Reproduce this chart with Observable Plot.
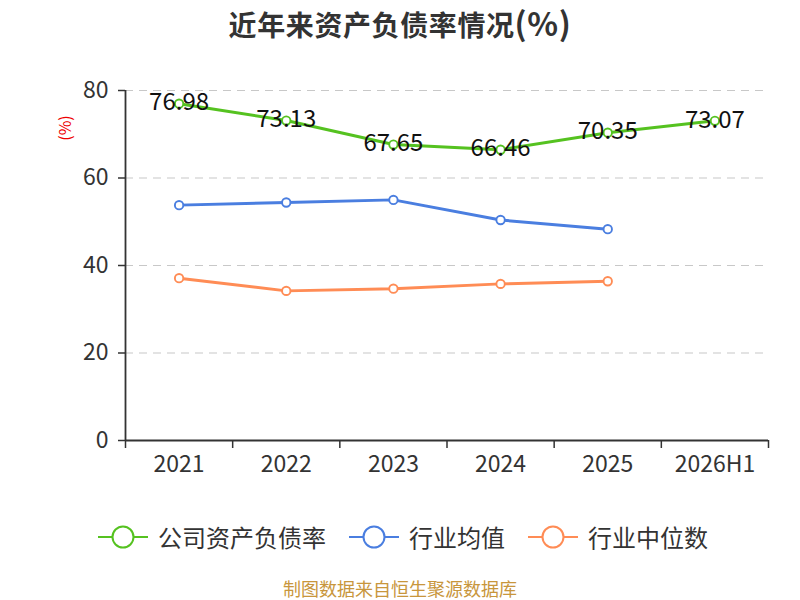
<!DOCTYPE html>
<html><head><meta charset="utf-8">
<script src="https://cdn.jsdelivr.net/npm/d3@7"></script>
<script src="https://cdn.jsdelivr.net/npm/@observablehq/plot@0.6"></script>
<style>
body{margin:0;width:800px;height:600px;position:relative;font-family:"Noto Sans CJK SC","Noto Sans",sans-serif;background:#fff;overflow:hidden}
#title{position:absolute;top:0px;left:0;width:800px;text-align:center;font-size:28px;font-weight:bold;color:#333;letter-spacing:0.6px;line-height:44px}
#title .p{font-size:32px}
#chart{position:absolute;top:0;left:0}
.leg{position:absolute;top:521px;height:32px;display:flex;align-items:center;font-size:24px;color:#333;line-height:32px}
.leg svg{margin-right:9px}
#caption{position:absolute;top:579px;left:0;width:800px;text-align:center;font-size:18px;color:#c8963c;line-height:19px}
#ylab{position:absolute;left:51px;top:116px;color:#e00;font-size:16px;transform:rotate(-90deg);transform-origin:center}
</style></head>
<body>
<div id="chart"></div>
<div id="title">近年来资产负债率情况<span class="p">(%)</span></div>
<div id="ylab">(%)</div>
<div id="legend"></div>
<div id="caption">制图数据来自恒生聚源数据库</div>
<script>
const years = ["2021","2022","2023","2024","2025","2026H1"];
const company = [76.98, 73.13, 67.65, 66.46, 70.35, 73.07];
const industryMean = [53.8, 54.4, 55.0, 50.4, 48.3];
const industryMedian = [37.1, 34.2, 34.7, 35.8, 36.4];
const yTicks = [0, 20, 40, 60, 80];
const seriesNames = ["公司资产负债率", "行业均值", "行业中位数"];
const colors = ["#55c220", "#4a7ee0", "#ff8c55"];

const rowsC = company.map((v, i) => ({x: i + 0.5, v}));
const rowsM = industryMean.map((v, i) => ({x: i + 0.5, v}));
const rowsD = industryMedian.map((v, i) => ({x: i + 0.5, v}));
const bounds = d3.range(years.length + 1);
const centers = years.map((d, i) => i + 0.5);

const lineOpts = {x: "x", y: "v", strokeWidth: 3, curve: "linear"};
const dotOpts = {x: "x", y: "v", r: 4.2, fill: "#fff", strokeWidth: 1.9};

const chart = Plot.plot({
  width: 800, height: 480,
  marginLeft: 125, marginRight: 32, marginTop: 90, marginBottom: 40,
  style: {fontFamily: "'Noto Sans CJK SC','Noto Sans',sans-serif", background: "transparent"},
  x: {type: "linear", domain: [0, years.length], axis: null},
  y: {domain: [0, 80], axis: null},
  marks: [
    Plot.gridY(yTicks.filter(d => d > 0), {stroke: "#c8c8c8", strokeOpacity: 1, strokeWidth: 1.2, strokeDasharray: "8,6"}),
    Plot.axisY(yTicks, {label: null, tickSize: 7, tickPadding: 10, fontSize: 23, color: "#333", stroke: "#333", strokeWidth: 1.5}),
    Plot.axisX(bounds, {label: null, tickSize: 8, tickFormat: () => "", color: "#333", strokeWidth: 1.5}),
    Plot.axisX(centers, {label: null, tickSize: 0, tickPadding: 15, fontSize: 23, color: "#333", tickFormat: d => years[Math.round(d - 0.5)]}),
    Plot.ruleY([0], {stroke: "#333", strokeWidth: 1.8}),
    Plot.ruleX([0], {y1: 0, y2: 80, stroke: "#333", strokeWidth: 1.8}),
    Plot.line(rowsD, {...lineOpts, stroke: colors[2]}),
    Plot.line(rowsM, {...lineOpts, stroke: colors[1]}),
    Plot.line(rowsC, {...lineOpts, stroke: colors[0]}),
    Plot.dot(rowsD, {...dotOpts, stroke: colors[2]}),
    Plot.dot(rowsM, {...dotOpts, stroke: colors[1]}),
    Plot.dot(rowsC, {...dotOpts, stroke: colors[0]}),
    Plot.text(rowsC, {x: "x", y: "v", text: d => d.v.toFixed(2), fontSize: 24, fill: "#111", dy: -1, textAnchor: "middle", lineAnchor: "middle"})
  ]
});
document.getElementById("chart").appendChild(chart);

const legLeft = [97, 348, 527];
const legend = document.getElementById("legend");
seriesNames.forEach((name, i) => {
  const div = document.createElement("div");
  div.className = "leg";
  div.style.left = legLeft[i] + "px";
  div.innerHTML = `<svg width="52" height="32"><line x1="1" x2="51" y1="16" y2="16" stroke="${colors[i]}" stroke-width="2"/><circle cx="26" cy="16" r="10.5" fill="#fff" stroke="${colors[i]}" stroke-width="2"/></svg><span>${name}</span>`;
  legend.appendChild(div);
});
</script>
</body></html>
